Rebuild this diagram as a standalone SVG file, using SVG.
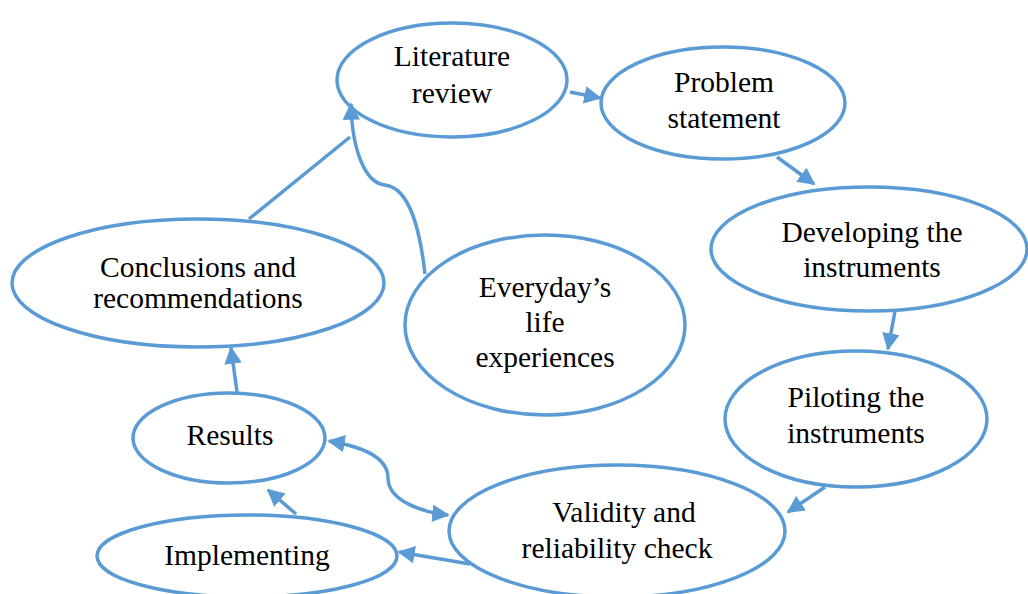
<svg xmlns="http://www.w3.org/2000/svg" width="1028" height="594" viewBox="0 0 1028 594" font-family="Times New Roman">
<style>
.n{fill:#fff;stroke:#5B9BD5;stroke-width:3.5}
.t{font-family:"Times New Roman",Tinos,"Liberation Serif",serif;font-size:29.5px;text-anchor:middle;fill:#000}
.c{fill:none;stroke:#5B9BD5;stroke-width:3.5}
</style>
<defs>
<marker id="a" viewBox="0 0 10 10" refX="9" refY="5" markerWidth="5" markerHeight="5" markerUnits="strokeWidth" orient="auto-start-reverse">
<path d="M0,0 L10,5 L0,10 z" fill="#5B9BD5"/>
</marker>
</defs>
<rect width="1028" height="594" fill="#fff"/>
<g id="lit"><ellipse class="n" cx="452" cy="80" rx="115" ry="57"/><text class="t" x="452" y="66">Literature</text><text class="t" x="452" y="103">review</text></g>
<g id="prob"><ellipse class="n" cx="723" cy="103" rx="122" ry="56"/><text class="t" x="724" y="92">Problem</text><text class="t" x="724" y="128">statement</text></g>
<g id="dev"><ellipse class="n" cx="869" cy="249" rx="158" ry="62"/><text class="t" x="872" y="242">Developing the</text><text class="t" x="872" y="277">instruments</text></g>
<g id="pil"><ellipse class="n" cx="856" cy="419" rx="131" ry="68"/><text class="t" x="856" y="407">Piloting the</text><text class="t" x="856" y="443">instruments</text></g>
<g id="val"><ellipse class="n" cx="617" cy="531" rx="168" ry="66"/><text class="t" x="624" y="522">Validity and</text><text class="t" x="617" y="558">reliability check</text></g>
<g id="imp"><ellipse class="n" cx="247" cy="556" rx="150" ry="41"/><text class="t" x="247" y="565">Implementing</text></g>
<g id="res"><ellipse class="n" cx="229" cy="438" rx="96" ry="45"/><text class="t" x="230" y="445">Results</text></g>
<g id="con"><ellipse class="n" cx="198" cy="283" rx="186" ry="64"/><text class="t" x="198" y="277">Conclusions and</text><text class="t" x="198" y="308">recommendations</text></g>
<g id="eve"><ellipse class="n" cx="545" cy="325" rx="140" ry="90"/><text class="t" x="545" y="297">Everyday’s</text><text class="t" x="545" y="332">life</text><text class="t" x="545" y="367">experiences</text></g>
<g id="connectors">
<line class="c" x1="570" y1="92" x2="600" y2="98" marker-end="url(#a)"/>
<line class="c" x1="777" y1="157" x2="814" y2="184" marker-end="url(#a)"/>
<line class="c" x1="895" y1="311" x2="888" y2="349" marker-end="url(#a)"/>
<line class="c" x1="825" y1="487" x2="788" y2="512" marker-end="url(#a)"/>
<line class="c" x1="470" y1="564" x2="399" y2="552" marker-end="url(#a)"/>
<line class="c" x1="296" y1="514" x2="268" y2="490" marker-end="url(#a)"/>
<line class="c" x1="237" y1="392" x2="231" y2="348" marker-end="url(#a)"/>
<line class="c" x1="249" y1="219" x2="350" y2="137"/>
<path class="c" d="M425,274 C420,230 410,188 385,185 C365,183 352,150 351,104" marker-end="url(#a)"/>
<path class="c" d="M329,441 C370,448 388,460 388,478 C388,500 420,512 448,515" marker-start="url(#a)" marker-end="url(#a)"/>
</g>
</svg>
